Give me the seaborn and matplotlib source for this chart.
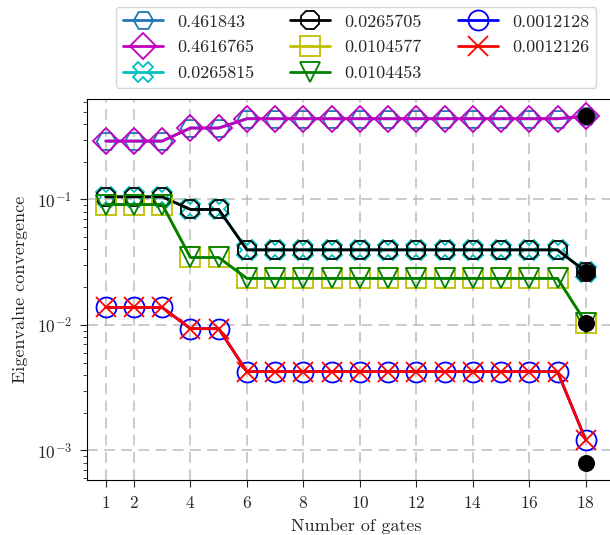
import matplotlib
matplotlib.use("Agg")
import matplotlib.pyplot as plt
import numpy as np
import seaborn as sns

gates = list(range(1, 19))

hex_blue = [0.292] * 3 + [0.371] * 2 + [0.44] * 12 + [0.461843]
diamond_magenta = [0.292] * 3 + [0.371] * 2 + [0.44] * 12 + [0.4616765]
x_cyan = [0.105] * 3 + [0.0833] * 2 + [0.0397] * 12 + [0.0265815]
oct_black = [0.105] * 3 + [0.0833] * 2 + [0.0397] * 12 + [0.0265705]
sq_yellow = [0.0912] * 3 + [0.0345] * 2 + [0.0235] * 12 + [0.0104577]
tri_green = [0.0912] * 3 + [0.0345] * 2 + [0.0235] * 12 + [0.0104453]
circ_blue = [0.0138] * 3 + [0.00935] * 2 + [0.00425] * 12 + [0.0012128]
x_red = [0.0138] * 3 + [0.00935] * 2 + [0.00425] * 12 + [0.0012126]

exact_x = [18, 18, 18, 18]
exact_vals = [0.4618, 0.02657, 0.01045, 0.0008]

labels = ["0.461843", "0.4616765", "0.0265815", "0.0265705",
          "0.0104577", "0.0104453", "0.0012128", "0.0012126"]
colors = ["tab:blue", "m", "c", "k", "y", "g", "b", "r"]
markers = ["H", "D", "X", "8", "s", "v", "o", "x"]
msizes = [14, 13, 14, 14, 14, 14, 14.4, 14.4]
xticks = [1, 2, 4, 6, 8, 10, 12, 14, 16, 18]

sns.set_style("ticks")
plt.rcParams["font.family"] = ["cmr10", "DejaVu Serif"]
plt.rcParams["mathtext.fontset"] = "cm"
plt.rcParams["axes.formatter.use_mathtext"] = True
plt.rcParams["axes.unicode_minus"] = False

fig = plt.figure(figsize=(6.1, 5.35), dpi=100)
ax = fig.add_axes([87 / 610, 55 / 535, (625 - 87) / 610, (480 - 99) / 535])

series = [hex_blue, diamond_magenta, x_cyan, oct_black,
          sq_yellow, tri_green, circ_blue, x_red]
for vals, col, mk, ms, lab in zip(series, colors, markers, msizes, labels):
    sns.lineplot(x=gates, y=vals, ax=ax, color=col, marker=mk, markersize=ms,
                 markerfacecolor="none", markeredgecolor=col,
                 markeredgewidth=1.3, linewidth=2, label=lab)

sns.scatterplot(x=exact_x, y=exact_vals, ax=ax, color="k", s=150,
                linewidth=0, zorder=5, legend=False)

ax.set_yscale("log")
ax.set_ylim(5.82e-4, 0.632)
ax.set_xlim(0.335, 19.39)
ax.set_xticks(xticks)
ax.tick_params(labelsize=12.5, direction="out", length=5, pad=6)
ax.tick_params(axis="y", which="minor", length=3)
ax.grid(True, which="major", linestyle=(0, (6, 3.5)), color="#b0b0b0",
        alpha=0.7, linewidth=1.3)
ax.set_xlabel("Number of gates", fontsize=13, labelpad=5)
ax.set_ylabel("Eigenvalue convergence", fontsize=13, labelpad=6)
for s in ax.spines.values():
    s.set_color("k")

ax.legend(ncol=3, loc="lower center", bbox_to_anchor=(0.5, 1.005),
          fontsize=13, handlelength=2.2, labelspacing=0.55,
          frameon=True, edgecolor="#cccccc", fancybox=True)

fig.savefig("out.png", dpi=100)
